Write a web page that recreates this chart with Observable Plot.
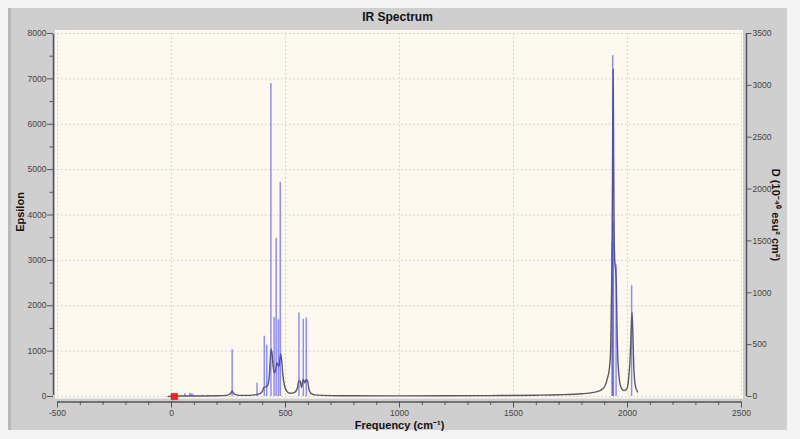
<!DOCTYPE html>
<html>
<head>
<meta charset="utf-8">
<script src="https://cdn.jsdelivr.net/npm/d3@7"></script>
<script src="https://cdn.jsdelivr.net/npm/@observablehq/plot@0.6"></script>
<style>
  html, body { margin: 0; padding: 0; background: #ffffff; }
  #wrap { position: relative; width: 800px; height: 439px; overflow: hidden; background: #f4f4f4; }
  #panel { position: absolute; left: 8px; top: 8px; width: 776px; height: 422px; background: #cfcfcf;
           border-left: 3px solid #b9b9b9; }
  #title { position: absolute; left: 8px; width: 779px; top: 10px; text-align: center;
           font: bold 12px "Liberation Sans", Arial, sans-serif; color: #111; }
  #chart { position: absolute; left: 0; top: 0; }
</style>
</head>
<body>
<div id="wrap">
  <div id="panel"></div>
  <div id="title">IR Spectrum</div>
  <div id="chart"></div>
</div>
<script>
// Calculated stick intensities (frequency cm-1, height on the Epsilon scale)
const stickFreq   = [58, 80, 87, 94, 134, 160, 203, 266, 375, 407, 418, 436, 450, 459, 469, 477, 559, 578, 591, 1932, 1935, 1938, 1950, 2018];
const stickHeight = [60, 70, 60, 50, 30, 25, 20, 1030, 290, 1330, 1130, 6900, 1740, 3490, 1690, 4720, 1840, 1700, 1730, 3400, 7510, 3850, 2900, 2440];

// Broadened spectrum
const curveFreq = [-15, 0, 50, 100, 150, 200, 240, 255, 262, 266, 270, 278, 300, 340, 370, 390, 400, 405, 412, 420, 428, 433, 437, 441, 446, 452, 458, 463, 467, 471, 475, 479, 483, 488, 495, 505, 520, 540, 552, 559, 565, 570, 578, 584, 591, 597, 603, 612, 630, 700, 800, 1000, 1200, 1400, 1600, 1700, 1800, 1850, 1880, 1900, 1912, 1920, 1926, 1929, 1932, 1934.5, 1937, 1939, 1941, 1944, 1948, 1951, 1954, 1957, 1962, 1970, 1985, 1998, 2006, 2012, 2016, 2020, 2024, 2028, 2034, 2044];
const curveEps  = [0, 5, 10, 12, 12, 15, 25, 50, 90, 120, 90, 45, 25, 25, 40, 70, 130, 200, 210, 230, 400, 800, 1040, 950, 650, 520, 620, 740, 700, 660, 800, 935, 800, 500, 250, 120, 70, 90, 180, 350, 330, 200, 375, 300, 375, 340, 150, 70, 35, 20, 15, 14, 16, 20, 28, 38, 60, 90, 130, 220, 400, 600, 1000, 2000, 3000, 5000, 7220, 5500, 3800, 3000, 2780, 2450, 1500, 900, 500, 220, 130, 180, 450, 900, 1450, 1850, 1300, 600, 250, 100];

// Axes
const xMajor = [-500, 0, 500, 1000, 1500, 2000, 2500];
const xMinor = d3.range(-500, 2501, 100);
const yMajor = [0, 1000, 2000, 3000, 4000, 5000, 6000, 7000, 8000];
const yMinor = [500, 1500, 2500, 3500, 4500, 5500, 6500, 7500];
const dTicks = [0, 500, 1000, 1500, 2000, 2500, 3000, 3500];
const epsPerD = 8000 / 3500;

const sticks = stickFreq.map((f, i) => ({f, h: stickHeight[i]}));
const curve = curveFreq.map((f, i) => ({f, e: curveEps[i]}));
const marker = [{f: 12, e: 0}];

const font = "Liberation Sans, Arial, sans-serif";
const axisColor = "#555";
const gridColor = "#c9c9d6";
const plain = d => String(d);

const chart = Plot.plot({
  width: 800,
  height: 439,
  marginLeft: 57,
  marginRight: 59,
  marginTop: 33,
  marginBottom: 43,
  style: {background: "transparent", fontFamily: font, fontSize: "8.5px", color: "#444"},
  x: {domain: [-500, 2500]},
  y: {domain: [0, 8000]},
  marks: [
    Plot.rect([0], {x1: -500, x2: 2500, y1: 0, y2: 8000, fill: "#fdf9ef",
      insetLeft: -2, insetRight: -2, insetTop: -3, insetBottom: -2.5}),
    Plot.gridX(xMajor, {stroke: gridColor, strokeOpacity: 1, strokeDasharray: "1.5,2.5"}),
    Plot.gridY(yMajor, {stroke: gridColor, strokeOpacity: 1, strokeDasharray: "1.5,2.5"}),
    Plot.line(curve, {x: "f", y: "e", stroke: "#5a5a5a", strokeWidth: 1.4, curve: "monotone-x"}),
    Plot.ruleX(sticks, {x: "f", y1: 0, y2: "h", stroke: "#4646ff", strokeOpacity: 0.6, strokeWidth: 1.5}),
    Plot.dot(marker, {x: "f", y: "e", symbol: "square", r: 3.6, fill: "#ff2020", stroke: "#d00000", strokeWidth: 0.5}),
    // axis lines
    Plot.ruleX([-500], {y1: 0, y2: 8000, dx: -4, stroke: axisColor, strokeWidth: 1.5, insetTop: -1, insetBottom: -1}),
    Plot.ruleX([2500], {y1: 0, y2: 8000, dx: 5, stroke: axisColor, strokeWidth: 1.5}),
    Plot.ruleY([0], {x1: -500, x2: 2500, dy: 5.5, stroke: axisColor, strokeWidth: 1.5}),
    // left axis
    Plot.axisY({anchor: "left", ticks: yMajor, tickFormat: plain, tickSize: 6, tickPadding: 1, dx: -4, label: null,
      stroke: axisColor, fill: "#444", fontSize: 8.5}),
    Plot.axisY({anchor: "left", ticks: yMinor, tickSize: 3.5, dx: -4, label: null, tickFormat: () => "",
      stroke: axisColor}),
    // right axis (D units)
    Plot.axisY({anchor: "right", ticks: dTicks.map(d => d * epsPerD), tickFormat: v => String(Math.round(v / epsPerD)),
      tickSize: 4.5, tickPadding: 1.5, dx: 5, label: null, stroke: axisColor, fill: "#444", fontSize: 8.5}),
    // bottom axis
    Plot.axisX({anchor: "bottom", ticks: xMajor, tickFormat: plain, tickSize: 6, tickPadding: 2, dy: 5.5, label: null,
      stroke: axisColor, fill: "#444", fontSize: 8.5}),
    Plot.axisX({anchor: "bottom", ticks: xMinor, tickSize: 3.5, dy: 5.5, label: null, tickFormat: () => "",
      stroke: axisColor}),
    // axis titles
    Plot.text(["Frequency (cm⁻¹)"], {frameAnchor: "bottom", lineAnchor: "middle", dy: 29, fontWeight: "bold", fontSize: 11, fill: "#111"}),
    Plot.text(["Epsilon"], {frameAnchor: "left", textAnchor: "middle", lineAnchor: "middle", dx: -37, dy: -3, rotate: -90, fontWeight: "bold", fontSize: 11, fill: "#111"}),
    Plot.text(["D (10⁻⁴⁰ esu² cm²)"], {frameAnchor: "right", textAnchor: "middle", lineAnchor: "middle", dx: 34, rotate: 90, fontWeight: "bold", fontSize: 11, fill: "#111"})
  ]
});
document.getElementById("chart").appendChild(chart);
</script>
</body>
</html>
